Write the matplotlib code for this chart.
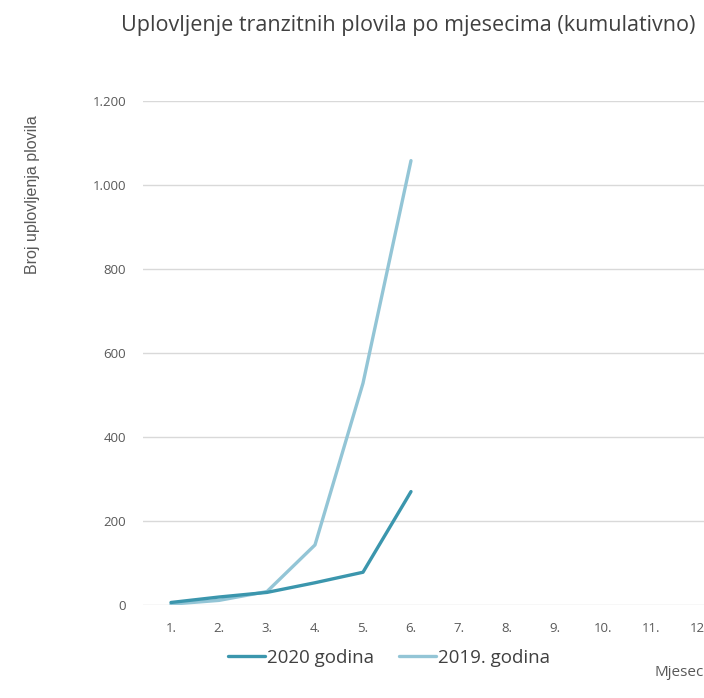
import matplotlib
matplotlib.use("Agg")
import matplotlib.pyplot as plt
from matplotlib.ticker import FuncFormatter

months = [1, 2, 3, 4, 5, 6]
month_labels = ["1.", "2.", "3.", "4.", "5.", "6.", "7.", "8.", "9.", "10.", "11.", "12."]
vals_2020 = [6, 19, 30, 53, 78, 270]
vals_2019 = [2, 11, 32, 143, 528, 1058]
series_names = ["2020 godina", "2019. godina"]
colors = ["#3b96ad", "#93c5d6"]

W, H = 704, 698
fig = plt.figure(figsize=(W / 100, H / 100), dpi=100)
left_px, right_px = 143, 723
bottom_px, top_px = 605, 101
ax = fig.add_axes([left_px / W, 1 - bottom_px / H, (right_px - left_px) / W, (bottom_px - top_px) / H])

l1, = ax.plot(months, vals_2020, color=colors[0], lw=2.4, solid_capstyle="round", zorder=3)
l2, = ax.plot(months, vals_2019, color=colors[1], lw=2.4, solid_capstyle="round", zorder=2)

ax.set_xlim(0.417, 12.5)
ax.set_ylim(0, 1200)
ax.set_xticks(range(1, 13))
ax.set_xticklabels(month_labels)
ax.set_yticks(range(0, 1201, 200))
ax.yaxis.set_major_formatter(FuncFormatter(lambda v, p: f"{int(v):,}".replace(",", ".")))
for s in ax.spines.values():
    s.set_visible(False)
ax.grid(axis="y", color="#d9d9d9", lw=1)
ax.set_axisbelow(True)
ax.tick_params(axis="both", length=0, colors="#595959", labelsize=9.5)
ax.tick_params(axis="x", pad=12)
ax.tick_params(axis="y", pad=12)
for lab in ax.get_xticklabels() + ax.get_yticklabels():
    lab.set_family("Open Sans")

fig.text(121 / W, 1 - 25 / H, "Uplovljenje tranzitnih plovila po mjesecima (kumulativno)",
         fontsize=15.5, color="#404040", family="Open Sans", ha="left", va="center")
fig.text(33 / W, 1 - 195 / H, "Broj uplovljenja plovila", rotation=90, fontsize=11.5,
         color="#595959", family="Liberation Sans", ha="center", va="center")
fig.text(655 / W, 1 - 672 / H, "Mjesec", fontsize=11, color="#595959", family="Open Sans",
         ha="left", va="center")

leg = fig.legend([l1, l2], series_names, loc="center", bbox_to_anchor=(389 / W, 1 - 658 / H),
                 ncol=2, frameon=False, prop={"family": "Open Sans", "size": 13.5},
                 handlelength=2.0, handletextpad=0.1, columnspacing=1.3)
for t in leg.get_texts():
    t.set_color("#404040")

fig.savefig("out.png", dpi=100)
